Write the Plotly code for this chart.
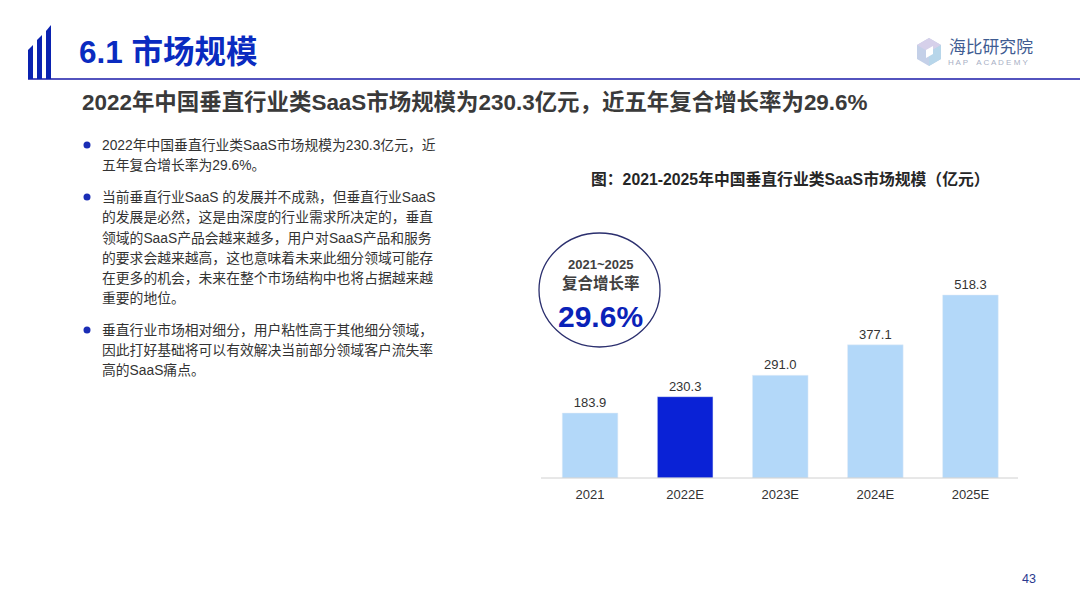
import plotly.graph_objects as go

W, H = 1080, 607
FONT = "Liberation Sans, Arial, Noto Sans CJK SC"

years = ["2021", "2022E", "2023E", "2024E", "2025E"]
market_size = [183.9, 230.3, 291.0, 377.1, 518.3]
bar_colors = ["#B3D8F9", "#0A22D6", "#B3D8F9", "#B3D8F9", "#B3D8F9"]

heading = "6.1 市场规模"
subtitle = "2022年中国垂直行业类SaaS市场规模为230.3亿元，近五年复合增长率为29.6%"
chart_title = "图：2021-2025年中国垂直行业类SaaS市场规模（亿元）"
body_lines = [
    "2022年中国垂直行业类SaaS市场规模为230.3亿元，近",
    "五年复合增长率为29.6%。",
    "当前垂直行业SaaS 的发展并不成熟，但垂直行业SaaS",
    "的发展是必然，这是由深度的行业需求所决定的，垂直",
    "领域的SaaS产品会越来越多，用户对SaaS产品和服务",
    "的要求会越来越高，这也意味着未来此细分领域可能存",
    "在更多的机会，未来在整个市场结构中也将占据越来越",
    "重要的地位。",
    "垂直行业市场相对细分，用户粘性高于其他细分领域，",
    "因此打好基础将可以有效解决当前部分领域客户流失率",
    "高的SaaS痛点。",
]
body_y = [145, 165, 197, 217, 238, 258, 278, 298, 330, 350, 370]
bullet_y = [145, 197, 330]


def px(x):
    return x / W


def py(y):
    return 1 - y / H


def label(text, x, y, size, color, bold=False, anchor="left"):
    if bold:
        text = "<b>" + text + "</b>"
    return dict(text=text, x=px(x), y=py(y), xref="paper", yref="paper",
                xanchor=anchor, yanchor="middle", showarrow=False,
                font=dict(family=FONT, size=size, color=color))


def box(x0, y0, x1, y1, **kw):
    return dict(xref="paper", yref="paper", x0=px(x0), y0=py(y0), x1=px(x1), y1=py(y1), **kw)


def poly(points, color, width=0, fill=True):
    path = "M " + " L ".join("%.5f,%.5f" % (px(a), py(b)) for a, b in points) + " Z"
    return dict(type="path", path=path, xref="paper", yref="paper",
                fillcolor=color if fill else "rgba(0,0,0,0)",
                line=dict(color=color, width=width))


fig = go.Figure(go.Bar(
    x=years, y=market_size, marker_color=bar_colors, width=0.585,
    text=["%.1f" % v for v in market_size], textposition="outside", cliponaxis=False,
    textfont=dict(family=FONT, size=13, color="#333333"),
))

annotations = [
    label(heading, 77, 52, 31.5, "#0A2BC0", bold=True),
    label(subtitle, 80, 102, 22.45, "#3A3A3A", bold=True),
    label(chart_title, 790, 179, 15.8, "#262626", bold=True, anchor="center"),
    label("2021~2025", 600.5, 264, 13, "#404040", bold=True, anchor="center"),
    label("复合增长率", 600.5, 283, 15.5, "#404040", bold=True, anchor="center"),
    label("29.6%", 600.5, 317, 30, "#0A22B8", bold=True, anchor="center"),
    label("海比研究院", 947, 48, 16.8, "#3F5C92"),
    label("H A P    A C A D E M Y", 946, 62, 8, "#A8AFC4"),
    label("43", 1029, 579, 12.5, "#2B3A8F", anchor="center"),
]
for line, y in zip(body_lines, body_y):
    annotations.append(label(line, 100, y, 13.8, "#333333"))

shapes = [
    # header rule and the three slanted bars on its left
    dict(type="line", xref="paper", yref="paper", x0=px(28), x1=1, y0=py(79), y1=py(79),
         line=dict(color="#1A1AA8", width=1.5)),
    poly([(28, 79), (28, 50), (33, 45), (33, 79)], "#0A22B0"),
    poly([(37, 79), (37, 40), (42, 35), (42, 79)], "#0A22B0"),
    poly([(46, 79), (46, 31), (51, 25), (51, 79)], "#0A22B0"),
    # baseline runs a little past the first category band
    dict(type="line", xref="paper", yref="paper", x0=px(541), x1=px(1018), y0=py(478), y1=py(478),
         line=dict(color="#D0D0D0", width=1)),
    # logo cube
    poly([(929, 38), (941, 45), (941, 59), (929, 66), (917, 59), (917, 45)], "#C4D0E8"),
    poly([(929, 38), (941, 45), (929, 52), (917, 45)], "#D6D0EA"),
    poly([(929, 52), (941, 45), (941, 59), (929, 66)], "#B7D6EA"),
    poly([(926, 50), (933, 46), (933, 54), (926, 58)], "#FFFFFF"),
    # growth badge
    box(539, 233, 660, 347, type="circle", line=dict(color="#2B2F6E", width=1.3),
        fillcolor="#FFFFFF"),
]
for y in bullet_y:
    shapes.append(box(83.5, y - 3.5, 90.5, y + 3.5, type="circle",
                      fillcolor="#1A2DB5", line=dict(width=0)))

fig.update_layout(
    width=W, height=H, margin=dict(l=0, r=0, t=0, b=0), autosize=False,
    paper_bgcolor="#FFFFFF", plot_bgcolor="#FFFFFF", showlegend=False,
    annotations=annotations, shapes=shapes,
    xaxis=dict(domain=[px(542.5), px(1018)], showgrid=False, ticks="", showline=False,
               ticklabelstandoff=7,
               tickfont=dict(family=FONT, size=13, color="#333333")),
    yaxis=dict(domain=[py(478), py(270)], range=[0, 589], visible=False),
)

fig.write_html("out.html", config=dict(displayModeBar=False),
               post_script="document.body.style.margin='0';")
